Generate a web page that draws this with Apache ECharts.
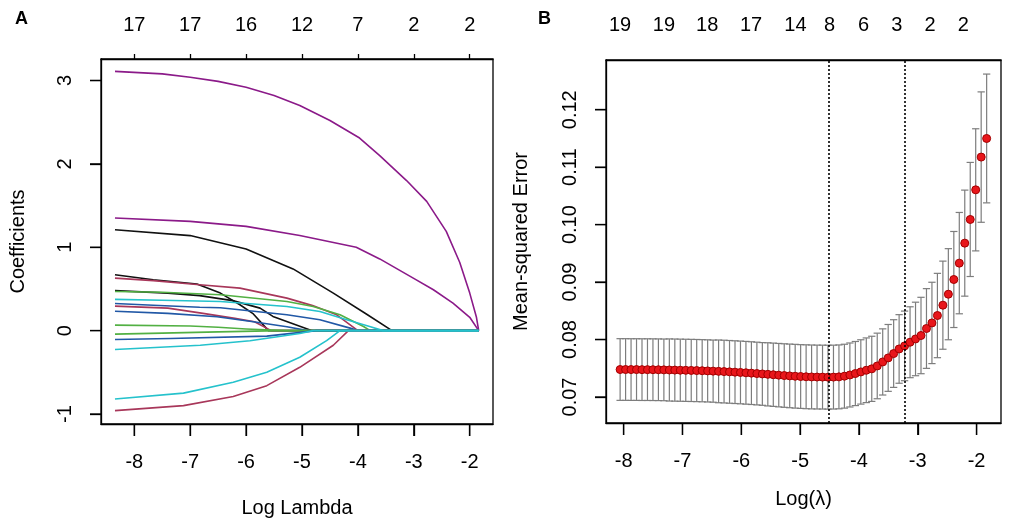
<!DOCTYPE html>
<html><head><meta charset="utf-8">
<script src="https://cdn.jsdelivr.net/npm/echarts@6/dist/echarts.min.js"></script>
<style>html,body{margin:0;padding:0;background:#fff}#c{width:1013px;height:528px}</style>
</head><body><div id="c"></div>
<script>
// ---------- Panel A: coefficient paths (log lambda, coefficient) ----------
const ticksA = [-8, -7, -6, -5, -4, -3, -2];
const topLabelsA = ['17', '17', '16', '12', '7', '2', '2'];
const yTicksA = [-1, 0, 1, 2, 3];
const pathEnd = [-1.84, 0];

const coefPurple1 = [[-8.345,3.11],[-7.5,3.08],[-7.0,3.04],[-6.5,2.99],[-6.0,2.92],[-5.5,2.82],[-5.04,2.70],[-4.5,2.52],[-3.97,2.31],[-3.61,2.10],[-3.13,1.80],[-2.77,1.55],[-2.42,1.19],[-2.18,0.82],[-2.0,0.45],[-1.88,0.16],[-1.84,0]];
const coefPurple2 = [[-8.345,1.35],[-7.0,1.31],[-6.0,1.25],[-5.04,1.14],[-4.03,1.0],[-3.61,0.86],[-3.01,0.63],[-2.65,0.49],[-2.30,0.33],[-2.0,0.16],[-1.84,0]];
const coefBlack1 = [[-8.345,1.21],[-7.0,1.14],[-6.0,0.98],[-5.16,0.74],[-4.44,0.45],[-3.85,0.20],[-3.39,0]];
const coefBlack2 = [[-8.345,0.67],[-7.66,0.61],[-6.88,0.56],[-6.46,0.45],[-6.11,0.31],[-5.87,0.20],[-5.6,0]];
const coefMaroon1 = [[-8.345,0.63],[-7.66,0.60],[-6.83,0.55],[-6.11,0.51],[-5.27,0.39],[-4.81,0.30],[-4.38,0.19],[-4.0,0]];
const coefBlack3 = [[-8.345,0.48],[-7.4,0.45],[-6.83,0.42],[-6.24,0.36],[-5.75,0.27],[-5.52,0.17],[-4.83,0]];
const coefGreen1 = [[-8.345,0.47],[-7.5,0.46],[-6.46,0.43],[-5.27,0.35],[-4.8,0.29],[-4.32,0.19],[-3.9,0.05],[-3.78,0]];
const coefCyan1 = [[-8.345,0.375],[-7.5,0.365],[-6.46,0.35],[-5.27,0.29],[-4.68,0.23],[-4.2,0.13],[-3.79,0.05],[-3.55,0]];
const coefNavy1 = [[-8.345,0.325],[-7.66,0.305],[-6.83,0.28],[-6.46,0.275],[-5.27,0.19],[-4.68,0.13],[-4.14,0.03],[-4.0,0]];
const coefMaroon2 = [[-8.345,0.294],[-7.4,0.27],[-6.8,0.21],[-6.2,0.147],[-5.85,0.106],[-5.55,0]];
const coefNavy2 = [[-8.345,0.233],[-7.4,0.207],[-6.52,0.166],[-5.87,0.106],[-5.27,0.046],[-4.9,0]];
const coefGreen2 = [[-8.345,0.066],[-7.0,0.055],[-6.5,0.04],[-6.0,0.02],[-5.3,0]];
const coefGreen3 = [[-8.345,-0.042],[-7.5,-0.03],[-6.5,-0.015],[-5.4,0]];
const coefNavy3 = [[-8.345,-0.106],[-7.35,-0.095],[-5.63,-0.066],[-4.74,0]];
const coefCyan2 = [[-8.345,-0.227],[-6.82,-0.175],[-5.93,-0.122],[-5.04,-0.034],[-4.8,0]];
const coefMaroon3 = [[-8.345,-0.96],[-7.12,-0.90],[-6.23,-0.79],[-5.63,-0.66],[-5.04,-0.44],[-4.44,-0.175],[-4.17,0]];
const coefCyan3 = [[-8.345,-0.82],[-7.12,-0.75],[-6.23,-0.62],[-5.63,-0.50],[-5.04,-0.32],[-4.56,-0.12],[-4.32,0]];

// ---------- Panel B: cross-validation curve ----------
const ticksB = [-8, -7, -6, -5, -4, -3, -2];
const yTicksB = [0.07, 0.08, 0.09, 0.10, 0.11, 0.12];
const topPosB = [-8.06, -7.316, -6.58, -5.833, -5.08, -4.50, -3.92, -3.355, -2.79, -2.224];
const topLabelsB = ['19', '19', '18', '17', '14', '8', '6', '3', '2', '2'];
const lambdaLines = [-4.51, -3.22];
const logLambda = [-8.060,-7.967,-7.874,-7.781,-7.688,-7.595,-7.502,-7.409,-7.316,-7.223,
  -7.130,-7.037,-6.944,-6.851,-6.758,-6.665,-6.572,-6.479,-6.386,-6.293,
  -6.200,-6.107,-6.014,-5.921,-5.828,-5.735,-5.642,-5.549,-5.456,-5.363,
  -5.270,-5.177,-5.084,-4.991,-4.898,-4.805,-4.712,-4.619,-4.526,-4.433,
  -4.340,-4.247,-4.154,-4.061,-3.968,-3.875,-3.782,-3.689,-3.596,-3.503,
  -3.410,-3.317,-3.224,-3.131,-3.038,-2.945,-2.852,-2.759,-2.666,-2.573,
  -2.480,-2.387,-2.294,-2.201,-2.108,-2.015,-1.922,-1.829];
const cvMse = [0.07478,0.07478,0.07477,0.07477,0.07476,0.07476,0.07475,0.07474,0.07472,
  0.07470,0.07468,0.07466,0.07464,0.07462,0.07460,0.07457,0.07454,0.07450,
  0.07446,0.07442,0.07437,0.07432,0.07427,0.07421,0.07415,0.07408,0.07401,
  0.07394,0.07387,0.07380,0.07373,0.07367,0.07361,0.07356,0.07352,0.07349,0.07347,0.07346,
  0.07345,0.07346,0.07350,0.07362,0.07383,0.07408,0.07436,0.07465,
  0.07490,0.07540,0.07610,0.07680,0.07756,0.07836,0.07889,0.07953,0.08010,0.08070,
  0.08192,0.08289,0.08418,0.08598,0.08789,0.09045,0.09330,0.09678,0.10090,0.10606,0.11176,0.11500];
const cvSe = [0.00537,0.00537,0.00537,0.00537,0.00537,0.00537,0.00537,0.00537,0.00537,
  0.00541,0.00541,0.00541,0.00541,0.00541,0.00541,0.00541,0.00541,0.00541,
  0.00546,0.00546,0.00546,0.00546,0.00546,0.00546,0.00546,0.00546,0.00546,
  0.00550,0.00551,0.00552,0.00553,0.00554,0.00555,0.00555,0.00556,0.00556,0.00556,0.00556,
  0.00556,0.00556,0.00556,0.00556,0.00557,0.00558,0.00560,0.00563,
  0.00567,0.00571,0.00576,0.00582,0.00589,0.00597,0.00606,0.00617,0.00640,0.00665,
  0.00694,0.00708,0.00734,0.00767,0.00793,0.00836,0.00882,0.00923,0.00993,0.01063,0.01135,0.01121];

// ---------- build ----------
const FONT = "'Liberation Sans', Arial, Helvetica, sans-serif";
const C = {purple:'#8B1A89', maroon:'#A8375A', green:'#52B043', navy:'#2158A6', cyan:'#25C2CC', black:'#111111'};
const pathList = [
  [coefPurple1,'purple'],[coefPurple2,'purple'],[coefBlack1,'black'],[coefBlack2,'black'],
  [coefMaroon1,'maroon'],[coefBlack3,'black'],[coefGreen1,'green'],[coefNavy1,'navy'],
  [coefMaroon2,'maroon'],[coefNavy2,'navy'],[coefGreen2,'green'],[coefGreen3,'green'],
  [coefNavy3,'navy'],[coefMaroon3,'maroon'],[coefCyan2,'cyan'],[coefCyan3,'cyan'],[coefCyan1,'cyan']
];
const txt = {color:'#000', fontFamily: FONT, fontSize: 20};

const seriesA = pathList.map(([p, col]) => {
  const d = p.slice();
  if (d[d.length-1][0] < pathEnd[0]) d.push(pathEnd);
  return {type:'line', xAxisIndex:0, yAxisIndex:0, data:d, showSymbol:false, symbol:'none',
    smooth:false, lineStyle:{color:C[col], width:1.6, join:'round'}, itemStyle:{color:C[col]}, silent:true};
});

const barData = logLambda.map((v,i) => [v, cvMse[i]-cvSe[i], cvMse[i]+cvSe[i]]);
const ptData = logLambda.map((v,i) => [v, cvMse[i]]);
const capHalf = 0.062;
const axLine = () => ({show:true, onZero:false, lineStyle:{color:'#000', width:1.3}});
const tickStyle = () => ({color:'#000', width:1.3});
const hidden = () => ({axisLine:{show:false, onZero:false}, axisTick:{show:false}, axisLabel:{show:false}, splitLine:{show:false}});

const GA = {left:101, top:59, width:392, height:365};
const GB = {left:606, top:60, width:395, height:363};
const XA = {min:-8.595, max:-1.584};
const YA = {min:-1.12, max:3.258};
const XB = {min:-8.30, max:-1.585};
const YB = {min:0.06547, max:0.12866};
const TX = 12, TY = 11; // tick lengths

const tickAxisX = (grid, pos, rng, ticks, len, margin, fmt) => ({gridIndex:grid, type:'value', position:pos, ...rng,
  axisLine:axLine(), splitLine:{show:false},
  axisTick:len > 0 ? {show:true, inside:false, length:len, customValues:ticks, lineStyle:tickStyle()} : {show:false},
  axisLabel:Object.assign({customValues:ticks, margin:margin, ...txt}, fmt ? {formatter:fmt} : {})});
const nameAxis = (grid, pos, rng, name, gap) => ({gridIndex:grid, type:'value', position:pos, ...rng, ...hidden(),
  name:name, nameLocation:'middle', nameGap:gap, nameTextStyle:{...txt}});

// outward tick marks on the bottom/left edges, placed through the axis scales
const tickMarks = (xi, yi, data, horizontal) => ({type:'custom', xAxisIndex:xi, yAxisIndex:yi, data:data,
  encode:{x:0, y:1}, clip:false, silent:true, z:10,
  renderItem:(params, api) => {
    const p = api.coord([api.value(0), api.value(1)]);
    const q = horizontal ? [p[0] - TY, p[1]] : [p[0], p[1] + TX];
    return {type:'line', shape:{x1:p[0], y1:p[1], x2:q[0], y2:q[1]}, style:{stroke:'#000', lineWidth:1.3}};
  }});

const option = {
  animation:false,
  backgroundColor:'#fff',
  title:[
    {text:'A', left:10, top:5, textStyle:{fontFamily:FONT, fontSize:18, fontWeight:'bold', color:'#000'}},
    {text:'B', left:533, top:5, textStyle:{fontFamily:FONT, fontSize:18, fontWeight:'bold', color:'#000'}}
  ],
  grid:[
    {...GA, show:true, borderColor:'#000', borderWidth:1.3, backgroundColor:'transparent'},
    {...GB, show:true, borderColor:'#000', borderWidth:1.3, backgroundColor:'transparent'}
  ],
  xAxis:[
    {gridIndex:0, type:'value', position:'bottom', ...XA, ...hidden()},                       // 0 data A
    tickAxisX(0, 'top', XA, ticksA, 5, 24, (v)=>topLabelsA[ticksA.indexOf(v)]),             // 1 top A
    {gridIndex:1, type:'value', position:'bottom', ...XB, ...hidden()},                       // 2 data B
    tickAxisX(1, 'top', XB, topPosB, 0, 25,
      (v)=>{const i = topPosB.findIndex(p=>Math.abs(p-v)<1e-9); return i>=0 ? topLabelsB[i] : '';}), // 3 top B
    tickAxisX(0, 'bottom', XA, ticksA, TX, 28, null),                                        // 4 bottom A
    nameAxis(0, 'bottom', XA, 'Log Lambda', 74),                                              // 5
    tickAxisX(1, 'bottom', XB, ticksB, TX, 28, null),                                        // 6 bottom B
    nameAxis(1, 'bottom', XB, 'Log(\u03BB)', 66)                                              // 7
  ],
  yAxis:[
    {gridIndex:0, type:'value', position:'left', ...YA, ...hidden()},                        // 0 data A
    {gridIndex:1, type:'value', position:'left', ...YB, ...hidden()},                        // 1 data B
    {gridIndex:0, type:'value', position:'left', ...YA, axisLine:axLine(), splitLine:{show:false},
      axisTick:{show:true, inside:false, length:TY, customValues:yTicksA, lineStyle:tickStyle()},
      axisLabel:{customValues:yTicksA, rotate:90, margin:26, ...txt}},                       // 2
    nameAxis(0, 'left', YA, 'Coefficients', 73),                                              // 3
    {gridIndex:1, type:'value', position:'left', ...YB, axisLine:axLine(), splitLine:{show:false},
      axisTick:{show:true, inside:false, length:TY, customValues:yTicksB, lineStyle:tickStyle()},
      axisLabel:{customValues:yTicksB, rotate:90, margin:26, ...txt, formatter:(v)=>v.toFixed(2)}}, // 4
    nameAxis(1, 'left', YB, 'Mean-squared Error', 75)                                         // 5
  ],
  series:[
    ...seriesA,
    tickMarks(0, 0, ticksA.map(v=>[v, YA.min]), false),
    tickMarks(0, 0, yTicksA.map(v=>[XA.min, v]), true),
    tickMarks(2, 1, ticksB.map(v=>[v, YB.min]), false),
    tickMarks(2, 1, yTicksB.map(v=>[XB.min, v]), true),
    {type:'custom', xAxisIndex:2, yAxisIndex:1, data:barData, encode:{x:0, y:[1,2]}, silent:true, z:2,
      renderItem:(params, api) => {
        const x = api.value(0), lo = api.value(1), hi = api.value(2);
        const pL = api.coord([x, lo]), pH = api.coord([x, hi]);
        const h = api.size([capHalf, 0])[0];
        const st = {stroke:'#7d7d7d', lineWidth:1.2};
        return {type:'group', children:[
          {type:'line', shape:{x1:pL[0], y1:pL[1], x2:pH[0], y2:pH[1]}, style:st},
          {type:'line', shape:{x1:pH[0]-h, y1:pH[1], x2:pH[0]+h, y2:pH[1]}, style:st},
          {type:'line', shape:{x1:pL[0]-h, y1:pL[1], x2:pL[0]+h, y2:pL[1]}, style:st}
        ]};
      }},
    {type:'scatter', xAxisIndex:2, yAxisIndex:1, data:ptData, symbol:'circle', symbolSize:8, z:4, silent:true,
      itemStyle:{color:'#E8161B', borderColor:'#A30000', borderWidth:1, opacity:1},
      markLine:{silent:true, symbol:['none','none'], label:{show:false},
        lineStyle:{color:'#000', type:[2,2], width:1.6},
        data: lambdaLines.map(v=>({xAxis:v}))}}
  ]
};
const chart = echarts.init(document.getElementById('c'), null, {renderer:'canvas'});
chart.setOption(option);
</script></body></html>
